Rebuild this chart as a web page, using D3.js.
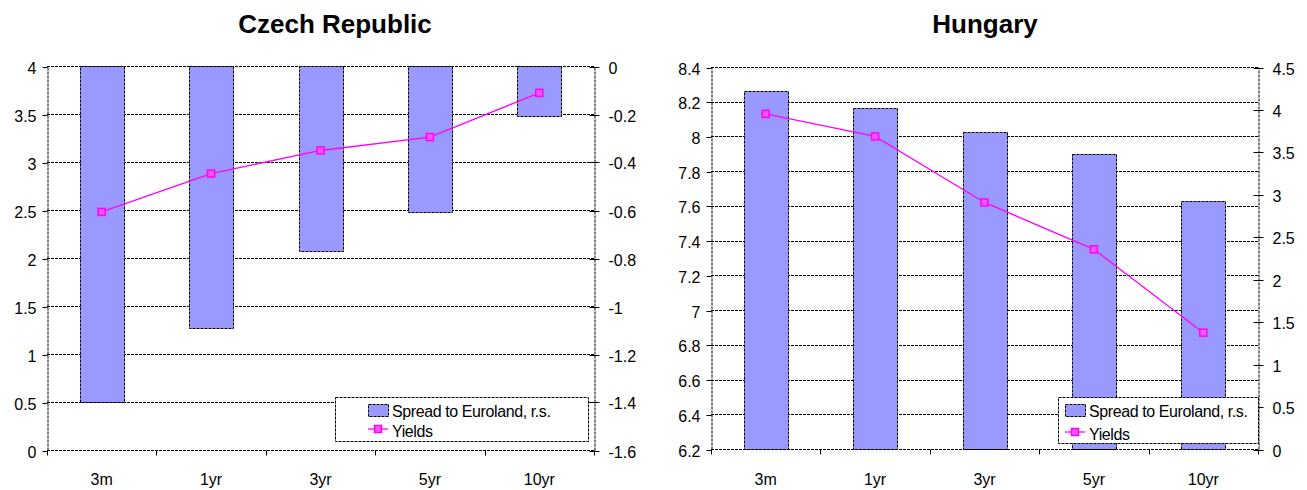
<!DOCTYPE html>
<html>
<head>
<meta charset="utf-8">
<script src="https://cdn.jsdelivr.net/npm/d3@7"></script>
<style>
  html, body { margin: 0; padding: 0; background: #fff; }
  svg { display: block; font-family: "Liberation Sans", Arial, sans-serif; }
</style>
</head>
<body>
<svg id="chart" width="1307" height="490"></svg>
<script>
// Maturities on the curve
const categories = ["3m", "1yr", "3yr", "5yr", "10yr"];

// Czech Republic: yields (left scale) and spread to Euroland (right scale)
const czYields = [2.48, 2.88, 3.12, 3.26, 3.72];
const czSpread = [-1.40, -1.09, -0.77, -0.61, -0.21];

// Hungary: yields (left scale) and spread to Euroland (right scale)
const huYields = [8.13, 8.00, 7.62, 7.35, 6.87];
const huSpread = [4.22, 4.02, 3.74, 3.47, 2.92];

// Axis tick values
const czLeftTicks = [0, 0.5, 1, 1.5, 2, 2.5, 3, 3.5, 4];
const czRightTicks = [-1.6, -1.4, -1.2, -1, -0.8, -0.6, -0.4, -0.2, 0];
const huLeftTicks = [6.2, 6.4, 6.6, 6.8, 7, 7.2, 7.4, 7.6, 7.8, 8, 8.2, 8.4];
const huRightTicks = [0, 0.5, 1, 1.5, 2, 2.5, 3, 3.5, 4, 4.5];

const seriesNames = ["Spread to Euroland, r.s.", "Yields"];

const BAR_FILL = "#9999ff";
const LINE_COLOR = "#ff00ff";
const DASH = "3,1";

const svg = d3.select("#chart");
const fmt = v => String(+v.toFixed(2));
const px = v => Math.round(v) + 0.5;

function drawPanel(cfg) {
  const g = svg.append("g");

  const x = d3.scaleBand().domain(categories)
    .range([cfg.x0, cfg.x1]).paddingInner(0.6).paddingOuter(0.3);
  const step = x.step();
  const yL = d3.scaleLinear().domain(d3.extent(cfg.leftTicks)).range([cfg.yBot, cfg.yTop]);
  const yR = d3.scaleLinear().domain(d3.extent(cfg.rightTicks)).range([cfg.yBot, cfg.yTop]);

  // title
  g.append("text")
    .attr("x", cfg.titleX).attr("y", 33)
    .attr("text-anchor", "middle")
    .attr("font-size", 26).attr("font-weight", "bold")
    .attr("fill", "#000")
    .text(cfg.title);

  // horizontal gridlines on the left scale
  g.append("g").selectAll("line").data(cfg.leftTicks).join("line")
    .attr("x1", cfg.x0).attr("x2", cfg.x1)
    .attr("y1", d => px(yL(d))).attr("y2", d => px(yL(d)))
    .attr("stroke", "#000").attr("stroke-width", 1)
    .attr("stroke-dasharray", DASH);

  // bars: spread on the right scale, from zero
  g.append("g").selectAll("rect").data(cfg.spread).join("rect")
    .attr("x", (d, i) => px(x(categories[i])))
    .attr("width", Math.round(x.bandwidth()))
    .attr("y", d => px(Math.min(yR(0), yR(d))))
    .attr("height", d => Math.round(Math.abs(yR(d) - yR(0))))
    .attr("fill", BAR_FILL)
    .attr("stroke", "#000").attr("stroke-width", 1)
    .attr("stroke-dasharray", DASH);

  // yields line on the left scale
  const cx = c => x(c) + x.bandwidth() / 2;
  const line = d3.line().x((d, i) => cx(categories[i])).y(d => yL(d));
  g.append("path").datum(cfg.yields)
    .attr("d", line)
    .attr("fill", "none")
    .attr("stroke", LINE_COLOR).attr("stroke-width", 1.3);
  g.append("g").selectAll("rect").data(cfg.yields).join("rect")
    .attr("x", (d, i) => cx(categories[i]) - 3.5)
    .attr("y", d => yL(d) - 3.5)
    .attr("width", 7).attr("height", 7)
    .attr("fill", "#ff55ff")
    .attr("stroke", LINE_COLOR).attr("stroke-width", 1.5);

  // left axis
  const axL = g.append("g").attr("transform", `translate(${px(cfg.x0)},0)`)
    .call(d3.axisLeft(yL).tickValues(cfg.leftTicks).tickFormat(fmt)
      .tickSizeInner(5).tickSizeOuter(0).tickPadding(6));
  // right axis
  const axR = g.append("g").attr("transform", `translate(${px(cfg.x1)},0)`)
    .call(d3.axisRight(yR).tickValues(cfg.rightTicks).tickFormat(fmt)
      .tickSizeInner(5).tickSizeOuter(0).tickPadding(9));
  axR.selectAll(".tick line").attr("x1", -5).attr("x2", 5);

  [axL, axR].forEach(ax => {
    ax.select(".domain").attr("stroke", "#000").attr("stroke-dasharray", DASH);
    ax.selectAll(".tick").attr("transform", function () {
      const t = d3.select(this).attr("transform");
      const m = /translate\(0,([-\d.]+)\)/.exec(t);
      return m ? `translate(0,${px(+m[1]) - 0.5})` : t;
    });
    ax.selectAll(".tick line").attr("stroke", "#000").attr("transform", "translate(0,0.5)");
    ax.selectAll(".tick text")
      .attr("font-size", 16).attr("fill", "#000")
      .attr("font-family", "Liberation Sans, Arial, sans-serif")
      .attr("dy", "0.46em");
  });

  // category axis
  const base = px(cfg.yBot);
  g.append("line")
    .attr("x1", cfg.x0).attr("x2", cfg.x1)
    .attr("y1", base).attr("y2", base)
    .attr("stroke", "#000").attr("stroke-dasharray", DASH);
  g.append("g").selectAll("line").data(d3.range(categories.length + 1)).join("line")
    .attr("x1", i => px(cfg.x0 + i * step)).attr("x2", i => px(cfg.x0 + i * step))
    .attr("y1", base).attr("y2", base + 5)
    .attr("stroke", "#000");
  g.append("g").selectAll("text").data(categories).join("text")
    .attr("x", d => cx(d)).attr("y", 485)
    .attr("text-anchor", "middle")
    .attr("font-size", 16).attr("fill", "#000")
    .text(d => d);

  // legend
  const L = cfg.legend;
  const lg = g.append("g");
  lg.append("rect")
    .attr("x", L.x + 0.5).attr("y", L.y + 0.5).attr("width", L.w).attr("height", L.h)
    .attr("fill", "#fff").attr("stroke", "#000").attr("stroke-dasharray", DASH);
  lg.append("rect")
    .attr("x", L.sx + 0.5).attr("y", L.y + 7.5).attr("width", 20).attr("height", 12)
    .attr("fill", BAR_FILL).attr("stroke", "#000").attr("stroke-dasharray", DASH);
  lg.append("text")
    .attr("x", L.sx + 24).attr("y", L.y + 20)
    .attr("font-size", 16).attr("fill", "#000").attr("letter-spacing", "-0.4")
    .text(seriesNames[0]);
  lg.append("line")
    .attr("x1", L.sx).attr("x2", L.sx + 20)
    .attr("y1", L.y + L.lineDy).attr("y2", L.y + L.lineDy)
    .attr("stroke", LINE_COLOR).attr("stroke-width", 1.3);
  lg.append("rect")
    .attr("x", L.sx + 10 - 3.5).attr("y", L.y + L.lineDy - 3.5)
    .attr("width", 7).attr("height", 7)
    .attr("fill", "#ff55ff").attr("stroke", LINE_COLOR).attr("stroke-width", 1.5);
  lg.append("text")
    .attr("x", L.sx + 24).attr("y", L.y + L.lineDy + 8)
    .attr("font-size", 16).attr("fill", "#000").attr("letter-spacing", "-0.4")
    .text(seriesNames[1]);
}

drawPanel({
  title: "Czech Republic", titleX: 335,
  x0: 47, x1: 594, yTop: 66, yBot: 450,
  leftTicks: czLeftTicks, rightTicks: czRightTicks,
  yields: czYields, spread: czSpread,
  legend: { x: 335, y: 397, w: 253, h: 44, sx: 368, lineDy: 32 }
});

drawPanel({
  title: "Hungary", titleX: 985,
  x0: 711, x1: 1258, yTop: 67, yBot: 449,
  leftTicks: huLeftTicks, rightTicks: huRightTicks,
  yields: huYields, spread: huSpread,
  legend: { x: 1058, y: 397, w: 200, h: 46, sx: 1065, lineDy: 35 }
});
</script>
</body>
</html>
